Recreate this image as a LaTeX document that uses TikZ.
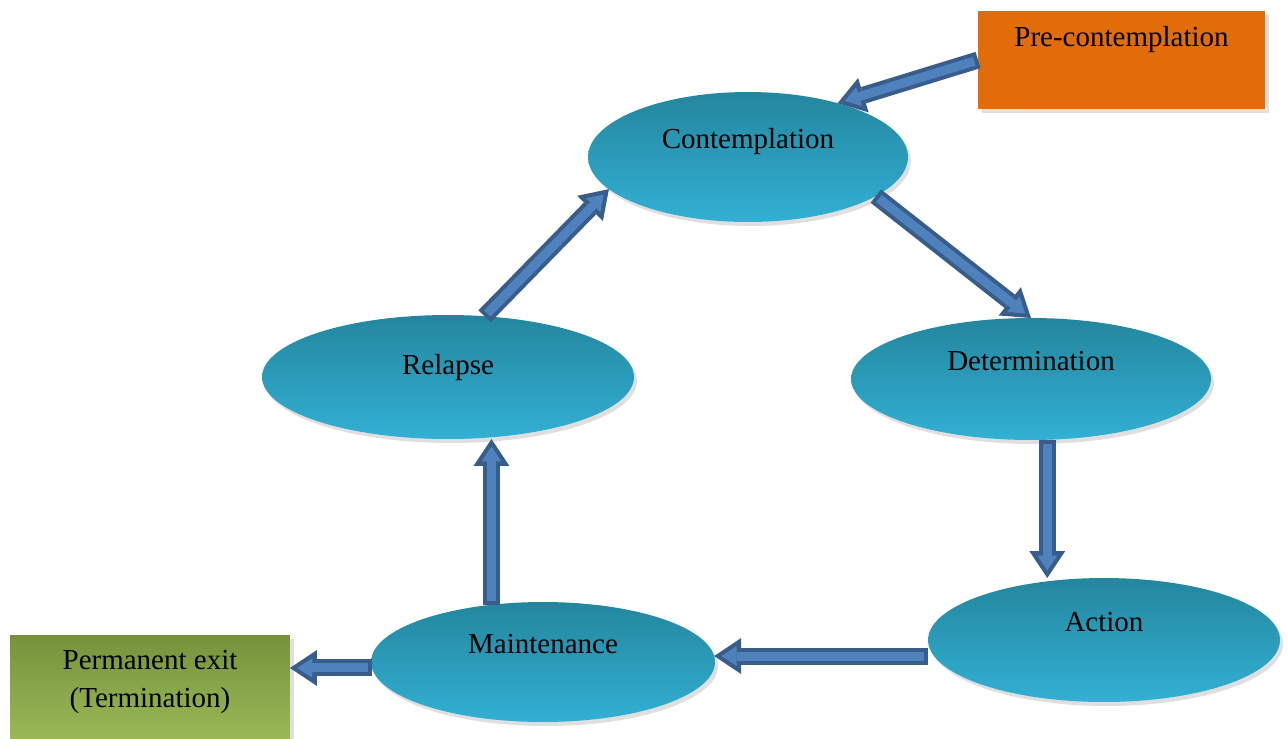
\documentclass[tikz,border=0pt]{standalone}
\usepackage{fontspec}
\setmainfont{Liberation Serif}
\usetikzlibrary{shapes.geometric,arrows.meta,shadows}
\definecolor{stagetop}{RGB}{36,134,158}
\definecolor{stagebottom}{RGB}{50,176,212}
\definecolor{arrowfill}{RGB}{79,129,189}
\definecolor{arrowedge}{RGB}{56,93,138}
\definecolor{precolor}{RGB}{227,108,10}
\definecolor{exittop}{RGB}{118,146,60}
\definecolor{exitbottom}{RGB}{155,187,89}

\begin{document}
\begin{tikzpicture}[
    x=0.02cm, y=-0.02cm,
    font=\fontsize{16.5}{21.6}\selectfont,
    stage/.style={ellipse, top color=stagetop, bottom color=stagebottom, inner sep=2pt, outer sep=0pt,
                  text height=0.4cm, text depth=0.74cm,
                  drop shadow={shadow xshift=0.06cm, shadow yshift=-0.08cm, opacity=0.25}},
    box/.style={rectangle, inner sep=2pt, outer sep=0pt,
                drop shadow={shadow xshift=0.08cm, shadow yshift=-0.08cm, opacity=0.25}},
    flow/.style={draw=arrowfill, line width=0.18cm, shorten >=0.15cm, shorten <=0.08cm,
                 -{Triangle[width=0.4cm, length=0.3cm, line width=0pt]},
                 preaction={draw=arrowedge, line width=0.34cm, shorten >=0pt, shorten <=0pt,
                            -{Triangle[width=0.72cm, length=0.54cm, line width=0pt]}}}
]

\clip (0,0) rectangle (1288,738);

% Stages of the cycle
\node[stage, minimum width=6.4cm, minimum height=2.6cm] (contemplation) at (748,157) {Contemplation};
\node[stage, minimum width=7.2cm, minimum height=2.44cm] (determination) at (1031,379) {Determination};
\node[stage, minimum width=7.44cm, minimum height=2.48cm, text depth=0.5cm] (relapse) at (448,377) {Relapse};
\node[stage, minimum width=7.04cm, minimum height=2.48cm] (action) at (1104,640) {Action};
\node[stage, minimum width=6.88cm, minimum height=2.4cm] (maintenance) at (543,662) {Maintenance};

% Entry and exit boxes
\node[box, fill=precolor, minimum width=5.74cm, minimum height=1.96cm,
      text height=0.4cm, text depth=0.94cm] (pre) at (1121.5,60) {Pre-contemplation};
\node[box, top color=exittop, bottom color=exitbottom, minimum width=5.6cm, minimum height=2.2cm,
      align=center, text depth=0.44cm] (exit) at (150,690) {Permanent exit\\(Termination)};

% Block arrows
\draw[flow] (pre.west) -- (contemplation.31);
\draw[flow] (contemplation.-17) -- (determination.north);
\draw[flow] (determination.-75) -- (determination.-75 |- action.north);
\draw[flow] (maintenance.2 -| action.west) -- (maintenance.2);
\draw[flow] (maintenance.132) -- (maintenance.132 |- relapse.south);
\draw[flow] (relapse.59) -- (contemplation.193);
\draw[flow] (maintenance.182) -- (maintenance.182 -| exit.east);

\end{tikzpicture}
\end{document}
